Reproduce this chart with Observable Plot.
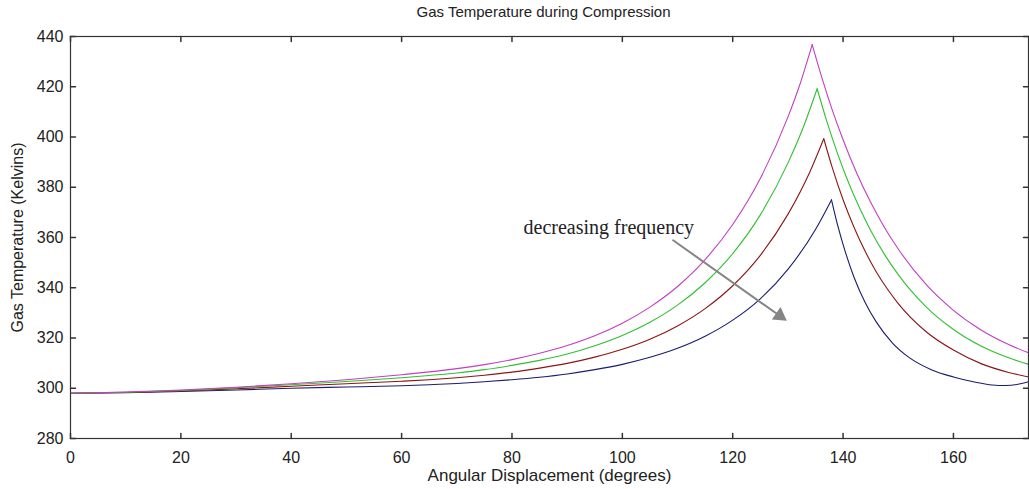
<!DOCTYPE html>
<html><head><meta charset="utf-8">
<script src="https://cdn.jsdelivr.net/npm/d3@7"></script>
<script src="https://cdn.jsdelivr.net/npm/@observablehq/plot@0.6"></script>
<style>body{margin:0;background:#fff} #chart svg{display:block}</style>
</head><body><div id="chart"></div>
<script>
const titleText = "Gas Temperature during Compression";
const xLabelText = "Angular Displacement (degrees)";
const yLabelText = "Gas Temperature (Kelvins)";
const xTicks = [0, 20, 40, 60, 80, 100, 120, 140, 160];
const yTicks = [280, 300, 320, 340, 360, 380, 400, 420, 440];
const seriesNames = ["f1", "f2", "f3", "f4"];

const magentaAngle = [0,10,20,30,40,50,60,65,70,75,80,85,90,95,100,105,110,115,120,125,130,132,134.4,136,138,140,142.5,145,147.5,150,155,160,165,170,173.6];
const magentaTemp  = [298,298.5,299.3,300.4,301.8,303.4,305.4,306.5,307.8,309.4,311.4,313.9,317.0,320.9,325.9,332.3,340.5,351.2,365.2,383.5,407.9,419.8,436.8,424.7,411.0,398.9,385.5,374.0,364.0,355.4,341.4,331.0,323.2,317.4,314.1];

const greenAngle = [0,10,20,30,40,50,60,65,70,75,80,85,90,95,100,105,110,115,120,125,130,133,135.3,137,139,141,143,145,147.5,150,155,160,165,170,173.6];
const greenTemp  = [298,298.4,299.1,300.2,301.4,302.7,304.2,305.1,306.1,307.4,309.1,311.1,313.6,316.9,321.0,326.3,333.1,342.0,353.6,369.0,389.6,405.1,419.2,406.6,393.4,381.8,371.7,362.8,353.3,345.2,332.5,323.4,316.8,312.1,309.5];

const redAngle = [0,10,20,30,40,50,60,65,70,75,80,85,90,95,100,105,110,115,120,125,130,134,136.5,138,140,142,144,146,148,150,155,160,165,170,173.6];
const redTemp  = [298,298.3,298.9,299.8,300.8,301.8,302.8,303.4,304.2,305.2,306.4,308.0,309.9,312.4,315.5,319.5,324.8,331.7,340.8,352.9,369.2,386.2,399.3,388.1,375.0,364.0,354.5,346.4,339.6,333.7,322.6,315.2,309.8,306.3,304.5];

const blueAngle = [0,10,20,30,40,50,60,65,70,75,80,85,90,95,100,105,110,115,120,125,130,135,137.9,139,140.5,142,144,146,149,152,156,160,164,167,169.5,171.5,173.6];
const blueTemp  = [298,298.2,298.7,299.3,300,300.5,301,301.4,301.9,302.6,303.4,304.4,305.7,307.4,309.5,312.3,315.9,320.7,327.1,335.6,347.3,363.2,375,365.0,353.6,344.1,334.1,326.4,317.9,312.2,307.4,304.5,302.4,301.3,301.1,301.5,302.6];

const annotationText = ["decreasing frequency"];
const annotationAt = [{angle: 82.1, temp: 361.5}];
const arrowFrom = {angle: 109.2, temp: 358.9};
const arrowTo = {angle: 129.7, temp: 327.0};

const series = [
  {name: "f4", angle: blueAngle, temp: blueTemp},
  {name: "f3", angle: redAngle, temp: redTemp},
  {name: "f2", angle: greenAngle, temp: greenTemp},
  {name: "f1", angle: magentaAngle, temp: magentaTemp}
];
const rows = [];
for (const s of series) {
  const pk = d3.maxIndex(s.temp);
  s.angle.forEach((a, i) => {
    if (i <= pk) rows.push({series: s.name, seg: s.name + "-rise", angle: a, temp: s.temp[i]});
    if (i >= pk) rows.push({series: s.name, seg: s.name + "-fall", angle: a, temp: s.temp[i]});
  });
}

const tickShape = {draw(ctx, l) { ctx.moveTo(0, 0); ctx.lineTo(0, -l); }};
const axisColor = "#333";
const arrowColor = "#858585";

function makePlot(extra) {
  return Plot.plot({
    width: 1029, height: 489,
    marginLeft: 70, marginRight: 1, marginTop: 36, marginBottom: 51,
    x: {domain: [0, 173.6]},
    y: {domain: [280, 440]},
    color: {domain: seriesNames, range: ["#c040c0", "#30c030", "#8b1515", "#1c1c70"]},
    style: {fontFamily: "'Liberation Sans', Arial, sans-serif", fontSize: "16px", color: "#222", background: "#fff"},
    marks: [
      Plot.axisX(xTicks, {anchor: "bottom", tickSize: 0, tickPadding: 13, label: null, fontSize: 16}),
      Plot.axisY(yTicks, {anchor: "left", tickSize: 0, tickPadding: 7, label: null, fontSize: 16}),
      Plot.vector(xTicks, {x: d => d, frameAnchor: "bottom", length: 5, rotate: 0, anchor: "start", shape: tickShape, stroke: axisColor}),
      Plot.vector(xTicks, {x: d => d, frameAnchor: "top", length: 5, rotate: 180, anchor: "start", shape: tickShape, stroke: axisColor}),
      Plot.vector(yTicks, {y: d => d, frameAnchor: "left", length: 5, rotate: 90, anchor: "start", shape: tickShape, stroke: axisColor}),
      Plot.vector(yTicks, {y: d => d, frameAnchor: "right", length: 5, rotate: -90, anchor: "start", shape: tickShape, stroke: axisColor}),
      Plot.line(rows, {x: "angle", y: "temp", z: "seg", stroke: "series", curve: "monotone-x", strokeWidth: 1.1}),
      Plot.frame({stroke: axisColor, strokeWidth: 1.2}),
      Plot.arrow([0], {x1: () => arrowFrom.angle, y1: () => arrowFrom.temp, x2: () => arrowTo.angle, y2: () => arrowTo.temp, stroke: arrowColor, strokeWidth: 2, headLength: 0, insetEnd: 8}),
      ...extra,
      Plot.text(annotationText, {x: annotationAt.map(d => d.angle), y: annotationAt.map(d => d.temp), text: d => d, textAnchor: "start", lineAnchor: "bottom", fontFamily: "'Liberation Serif', 'Times New Roman', serif", fontSize: 20, fill: "#222"}),
      Plot.text([titleText], {frameAnchor: "top", lineAnchor: "middle", dy: -24, dx: -6, text: d => d, fontSize: 15, fill: "#222"}),
      Plot.text([xLabelText], {frameAnchor: "bottom", lineAnchor: "middle", dy: 37, text: d => d, fontSize: 17, fill: "#222"}),
      Plot.text([yLabelText], {frameAnchor: "left", textAnchor: "middle", lineAnchor: "middle", rotate: -90, dx: -53, text: d => d, fontSize: 16, fill: "#222"})
    ]
  });
}

// first pass to read the scales, so the arrowhead can be oriented along the arrow
const probe = makePlot([]);
const sx = probe.scale("x"), sy = probe.scale("y");
const px1 = sx.apply(arrowFrom.angle), py1 = sy.apply(arrowFrom.temp);
const px2 = sx.apply(arrowTo.angle), py2 = sy.apply(arrowTo.temp);
const ang = Math.atan2(py2 - py1, px2 - px1);
const back = 8;
const head = Plot.dot([0], {
  x: () => arrowTo.angle, y: () => arrowTo.temp,
  symbol: "triangle", r: 5.6, fill: arrowColor, stroke: "none",
  rotate: 90 + ang * 180 / Math.PI,
  dx: -back * Math.cos(ang), dy: -back * Math.sin(ang)
});
const plot = makePlot([head]);
document.getElementById("chart").append(plot);
</script>
</body></html>
